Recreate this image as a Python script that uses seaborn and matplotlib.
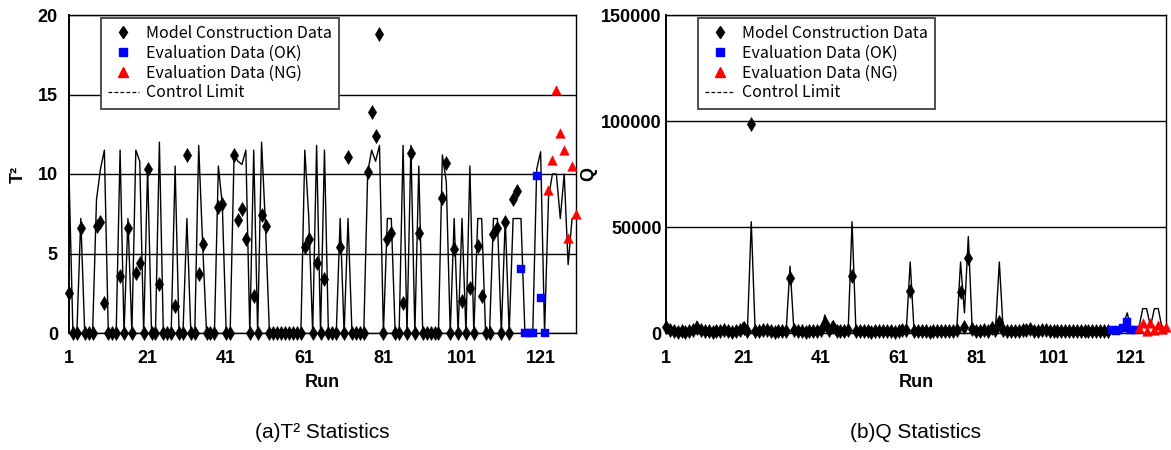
import matplotlib
matplotlib.use("Agg")
import matplotlib.pyplot as plt
import seaborn as sns
from matplotlib.lines import Line2D

# ---------------- data ----------------
runs_model = list(range(1, 116))
runs_ok = list(range(116, 123))
runs_ng = list(range(123, 131))
runs_all = list(range(1, 131))
x_ticks = [1, 21, 41, 61, 81, 101, 121]

t2_model = [2.5, 0, 0, 6.6, 0, 0, 0, 6.7, 7.0, 1.9,
            0, 0, 0, 3.6, 0, 6.6, 0, 3.8, 4.4, 0,
            10.3, 0, 0, 3.1, 0, 0, 0, 1.7, 0, 0,
            11.2, 0, 0, 3.7, 5.6, 0, 0, 0, 7.9, 8.1,
            0, 0, 11.2, 7.1, 7.8, 5.9, 0, 2.3, 0, 7.4,
            6.7, 0, 0, 0, 0, 0, 0, 0, 0, 0,
            5.4, 5.9, 0, 4.4, 0, 3.4, 0, 0, 0, 5.4,
            0, 11.1, 0, 0, 0, 0, 10.1, 13.9, 12.4, 18.8,
            0, 5.9, 6.3, 0, 0, 1.9, 0, 11.3, 0, 6.3,
            0, 0, 0, 0, 0, 8.5, 10.7, 0, 5.3, 0,
            2.0, 0, 2.8, 0, 5.5, 2.3, 0, 0, 6.2, 6.6,
            0, 7.0, 0, 8.4, 8.9]
t2_ok = [4.0, 0, 0, 0, 9.9, 2.2, 0]
t2_ng = [9.0, 10.9, 15.3, 12.6, 11.5, 6.0, 10.5, 7.5]
t2_line = [10.0, 0, 0, 7.2, 0, 0, 0, 8.4, 10.3, 11.5,
           0, 0, 0, 11.5, 0, 7.2, 0, 11.5, 10.8, 0,
           10.4, 0, 0, 12.0, 0, 0, 0, 10.5, 0, 0,
           7.2, 0, 0, 11.8, 5.6, 0, 0, 0, 10.5, 8.1,
           0, 0, 11.2, 10.8, 10.6, 11.5, 0, 11.5, 0, 12.0,
           6.7, 0, 0, 0, 0, 0, 0, 0, 0, 0,
           11.5, 7.3, 0, 11.8, 0, 11.5, 0, 0, 0, 7.2,
           0, 7.2, 0, 0, 0, 0, 10.1, 11.5, 10.8, 11.8,
           0, 7.2, 7.2, 0, 0, 11.8, 0, 11.8, 0, 10.5,
           0, 0, 0, 0, 0, 11.2, 9.5, 0, 7.2, 0,
           7.2, 0, 10.5, 0, 7.2, 7.2, 0, 0, 7.2, 7.2,
           0, 7.2, 0, 7.2, 7.2, 7.2, 0, 0, 0, 10.3,
           11.4, 0, 8.5, 10.0, 10.0, 7.2, 10.0, 4.3, 7.2, 7.3]

q_model = [3000, 1200, 800, 600, 900, 700, 1000, 1500, 2500, 1200,
           800, 900, 700, 1000, 800, 1200, 900, 700, 1100, 1500,
           2500, 1000, 98500, 900, 800, 1200, 1500, 1000, 700, 900,
           800, 1000, 26000, 1200, 900, 800, 700, 1100, 900, 1000,
           1500, 4500, 1200, 3000, 1000, 800, 900, 1200, 27000, 1000,
           900, 800, 1000, 700, 900, 1100, 800, 1000, 900, 700,
           1000, 1200, 1500, 20000, 1100, 900, 800, 1000, 700, 900,
           1000, 800, 1100, 900, 1000, 1500, 19500, 3000, 35500, 2000,
           1000, 900, 1200, 800, 2500, 1500, 5000, 1200, 1000, 800,
           900, 1000, 1200, 1500, 2000, 1000, 900, 1200, 1500, 800,
           1000, 900, 800, 1100, 1000, 900, 800, 1000, 900, 1100,
           800, 1000, 900, 800, 1000]
q_ok = [1200, 1000, 1500, 2500, 5000, 1500, 1200]
q_ng = [2500, 4500, 1000, 4500, 1500, 4000, 2000, 3000]
q_line = [3000, 1200, 800, 600, 900, 700, 1000, 1500, 5500, 1200,
          800, 900, 700, 1000, 800, 1200, 900, 700, 1100, 1500,
          5000, 1000, 52500, 900, 800, 1200, 2500, 1000, 700, 900,
          800, 1000, 31500, 1200, 900, 800, 700, 1100, 900, 1000,
          1500, 8500, 1200, 5500, 1000, 800, 900, 1200, 52500, 1000,
          900, 800, 1000, 700, 900, 1100, 800, 1000, 900, 700,
          1000, 1200, 1500, 33500, 1100, 900, 800, 1000, 700, 900,
          1000, 800, 1100, 900, 1000, 1500, 33500, 9500, 45500, 2000,
          1000, 900, 1200, 800, 4000, 1500, 33500, 1200, 1000, 800,
          900, 1000, 1200, 1500, 3500, 1000, 900, 1200, 2500, 800,
          1000, 900, 800, 1100, 1000, 900, 800, 1000, 900, 1100,
          800, 1000, 900, 800, 1000, 1200, 1000, 1500, 4000, 9500,
          1500, 1200, 2500, 11500, 11500, 3000, 11500, 11500, 2000, 3000]

legend_labels = ["Model Construction Data", "Evaluation Data (OK)",
                 "Evaluation Data (NG)", "Control Limit"]

# ---------------- style ----------------
sns.set_style("white")
plt.rcParams["font.family"] = ["Liberation Sans", "DejaVu Sans"]
plt.rcParams["text.color"] = "black"
plt.rcParams["axes.labelcolor"] = "black"
plt.rcParams["xtick.color"] = "black"
plt.rcParams["ytick.color"] = "black"
tick_font = ["Liberation Sans Narrow", "Liberation Sans", "DejaVu Sans"]
leg_font = ["Noto Sans CJK JP", "DejaVu Sans"]

W, H = 1171, 450
fig = plt.figure(figsize=(W / 100, H / 100), dpi=100)
ax1 = fig.add_axes([69 / W, 1 - 333 / H, 507 / W, 318 / H])
ax2 = fig.add_axes([666 / W, 1 - 333 / H, 500 / W, 318 / H])


def draw(ax, line, model, ok, ng, ylim, yticks, ylabel, ylab_x, ypad):
    sns.lineplot(x=runs_all, y=line, ax=ax, color="black", linewidth=1.0,
                 zorder=3, clip_on=False)
    sns.scatterplot(x=runs_model, y=model, ax=ax, marker="d", s=52,
                    color="black", edgecolor="black", linewidth=0.3,
                    zorder=4, clip_on=False)
    sns.scatterplot(x=runs_ok, y=ok, ax=ax, marker="s", s=34,
                    color="#0000FF", edgecolor="#0000FF", linewidth=0.3,
                    zorder=5, clip_on=False)
    sns.scatterplot(x=runs_ng, y=ng, ax=ax, marker="^", s=48,
                    color="#FF0000", edgecolor="#FF0000", linewidth=0.3,
                    zorder=5, clip_on=False)
    ax.set_xlim(1, 130)
    ax.set_ylim(*ylim)
    ax.set_xticks(x_ticks)
    ax.set_xticklabels([str(v) for v in x_ticks])
    ax.set_yticks(yticks)
    ax.set_yticklabels([str(v) for v in yticks])
    ax.yaxis.grid(True, color="black", linewidth=1.0)
    ax.xaxis.grid(False)
    ax.set_axisbelow(True)
    for s in ax.spines.values():
        s.set_color("black")
        s.set_linewidth(1.0)
    ax.spines["left"].set_linewidth(1.4)
    ax.tick_params(axis="x", length=0, pad=12, colors="black")
    ax.tick_params(axis="y", length=0, pad=ypad, colors="black")
    for lab in ax.get_xticklabels() + ax.get_yticklabels():
        lab.set_family(tick_font)
        lab.set_fontweight("bold")
        lab.set_fontsize(13)
    ax.set_xlabel("Run", family=tick_font, fontweight="bold", fontsize=13,
                  color="black")
    ax.xaxis.set_label_coords(0.5, -0.155)
    ax.xaxis.label.set_va("center")
    ax.set_ylabel(ylabel, family=tick_font, fontweight="bold", fontsize=13,
                  color="black")
    ax.yaxis.set_label_coords(ylab_x, 0.5)
    ax.yaxis.label.set_va("center")

    handles = [
        Line2D([], [], marker="d", color="black", linestyle="none", markersize=6.5),
        Line2D([], [], marker="s", color="#0000FF", linestyle="none", markersize=5.5),
        Line2D([], [], marker="^", color="#FF0000", linestyle="none", markersize=6.5),
        Line2D([], [], color="black", linestyle=(0, (3.0, 1.8)), linewidth=0.9),
    ]
    x_anchor = 32 / 507
    leg = ax.legend(handles, legend_labels, loc="upper left",
                    bbox_to_anchor=(x_anchor, 0.992), borderaxespad=0,
                    frameon=True, fancybox=False, framealpha=1,
                    edgecolor="#404040", handlelength=1.9, handletextpad=0.45,
                    labelspacing=0.18, borderpad=0.45,
                    prop={"family": leg_font, "size": 11.5})
    leg.get_frame().set_linewidth(1.3)
    for t in leg.get_texts():
        t.set_color("black")
    leg.set_zorder(10)


draw(ax1, t2_line, t2_model, t2_ok, t2_ng, (0, 20), [0, 5, 10, 15, 20],
     "T²", (18 - 69) / 507, 8)
draw(ax2, q_line, q_model, q_ok, q_ng, (0, 150000), [0, 50000, 100000, 150000],
     "Q", (589 - 666) / 500, 3)

fig.text((69 + 576) / 2 / W, 1 - 432 / H, "(a)T² Statistics", ha="center",
         va="center", fontsize=15, color="black",
         family=["Liberation Sans", "DejaVu Sans"])
fig.text((666 + 1166) / 2 / W, 1 - 432 / H, "(b)Q Statistics", ha="center",
         va="center", fontsize=15, color="black",
         family=["Liberation Sans", "DejaVu Sans"])

fig.savefig("out.png", dpi=100)
